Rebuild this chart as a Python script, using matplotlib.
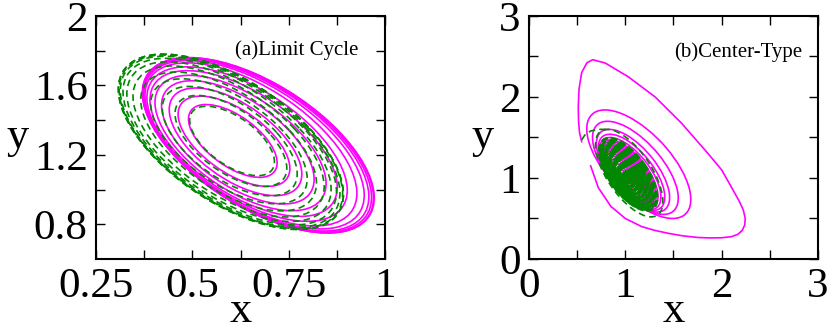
import numpy as np
import matplotlib
matplotlib.use('Agg')
import matplotlib.pyplot as plt
from matplotlib.patches import Ellipse

plt.rcParams['font.family'] = ['Liberation Serif', 'DejaVu Serif']

PINK = '#ff00ff'
GREEN = '#008800'

# (a) Limit cycle: one loop per entry, centre + half extents in x and y
pink_a_cx = [0.605, 0.608, 0.612, 0.618, 0.625, 0.633, 0.642, 0.652, 0.660, 0.665, 0.668, 0.670, 0.672]
pink_a_cy = [1.280, 1.278, 1.275, 1.272, 1.268, 1.265, 1.262, 1.260, 1.258, 1.256, 1.255, 1.255, 1.255]
pink_a_hx = [0.115, 0.145, 0.172, 0.198, 0.222, 0.243, 0.260, 0.275, 0.286, 0.293, 0.297, 0.300, 0.300]
pink_a_hy = [0.210, 0.260, 0.310, 0.355, 0.390, 0.420, 0.445, 0.470, 0.485, 0.495, 0.500, 0.505, 0.505]

green_a_cx = [0.603, 0.600, 0.597, 0.595, 0.594, 0.594, 0.595, 0.597, 0.598, 0.600, 0.600, 0.600]
green_a_cy = [1.280, 1.280, 1.279, 1.278, 1.277, 1.277, 1.276, 1.276, 1.275, 1.275, 1.275, 1.275]
green_a_hx = [0.110, 0.145, 0.175, 0.203, 0.228, 0.248, 0.265, 0.277, 0.285, 0.290, 0.292, 0.292]
green_a_hy = [0.200, 0.262, 0.315, 0.360, 0.400, 0.435, 0.460, 0.480, 0.493, 0.500, 0.505, 0.505]
tilt_a = -0.6

# (b) Center-type: first transient loop as read points, then shrinking loops
pink_b_x = [0.547, 0.525, 0.515, 0.512, 0.520, 0.547, 0.600, 0.660, 0.790, 1.030, 1.310, 1.585,
            1.860, 2.000, 2.100, 2.180, 2.225, 2.245, 2.240, 2.215, 2.170, 2.100, 2.000, 1.880,
            1.760, 1.600, 1.446, 1.300, 1.170, 1.000, 0.850, 0.720, 0.640]
pink_b_y = [1.448, 1.560, 1.700, 1.880, 2.100, 2.300, 2.420, 2.460, 2.420, 2.250, 2.000, 1.675,
            1.300, 1.100, 0.890, 0.720, 0.605, 0.500, 0.420, 0.355, 0.305, 0.275, 0.262, 0.260,
            0.265, 0.285, 0.317, 0.355, 0.400, 0.500, 0.650, 0.880, 1.150]
pink_b_cx = [1.140, 1.105, 1.080, 1.065, 1.050, 1.040, 1.035, 1.030, 1.026, 1.022, 1.018, 1.015,
             1.012, 1.010, 1.008, 1.006, 1.004, 1.003, 1.002, 1.001, 1.000]
pink_b_cy = [1.170, 1.125, 1.090, 1.070, 1.055, 1.045, 1.040, 1.035, 1.030, 1.026, 1.022, 1.018,
             1.015, 1.012, 1.010, 1.007, 1.005, 1.004, 1.003, 1.001, 1.000]
pink_b_hx = [0.540, 0.445, 0.380, 0.345, 0.320, 0.300, 0.285, 0.272, 0.260, 0.248, 0.236, 0.224,
             0.210, 0.195, 0.180, 0.160, 0.140, 0.115, 0.090, 0.065, 0.040]
pink_b_hy = [0.670, 0.575, 0.510, 0.470, 0.445, 0.425, 0.410, 0.393, 0.377, 0.360, 0.343, 0.325,
             0.305, 0.283, 0.260, 0.232, 0.203, 0.167, 0.130, 0.094, 0.058]

green_b_x = [0.547, 0.580, 0.640, 0.720, 0.810]
green_b_y = [1.470, 1.530, 1.580, 1.600, 1.600]
green_b_cx = [1.040, 1.030, 1.025, 1.020, 1.016, 1.013, 1.010, 1.008, 1.006, 1.005, 1.004, 1.003,
              1.002, 1.002, 1.001, 1.001, 1.000, 1.000, 1.000, 1.000, 1.000, 1.000, 1.000, 1.000,
              1.000, 1.000]
green_b_cy = [1.060, 1.045, 1.035, 1.028, 1.022, 1.018, 1.014, 1.011, 1.009, 1.007, 1.005, 1.004,
              1.003, 1.002, 1.002, 1.001, 1.001, 1.000, 1.000, 1.000, 1.000, 1.000, 1.000, 1.000,
              1.000, 1.000]
green_b_hx = [0.350, 0.300, 0.285, 0.272, 0.260, 0.248, 0.236, 0.224, 0.212, 0.200, 0.188, 0.176,
              0.164, 0.152, 0.140, 0.128, 0.116, 0.104, 0.092, 0.080, 0.068, 0.056, 0.044, 0.032,
              0.020, 0.010]
green_b_hy = [0.540, 0.445, 0.423, 0.403, 0.385, 0.367, 0.350, 0.332, 0.314, 0.296, 0.278, 0.261,
              0.243, 0.225, 0.207, 0.190, 0.172, 0.154, 0.136, 0.118, 0.101, 0.083, 0.065, 0.047,
              0.030, 0.015]
tilt_b = -0.65


def loop_patch(cx, cy, hx, hy, tilt, **kw):
    # ellipse with given x/y half extents and x-y correlation, as a patch
    m = np.array([[hx * hx, hx * hy * tilt], [hx * hy * tilt, hy * hy]])
    w, v = np.linalg.eigh(m)
    ang = np.degrees(np.arctan2(v[1, 1], v[0, 1]))
    return Ellipse((cx, cy), 2 * np.sqrt(w[1]), 2 * np.sqrt(w[0]), angle=ang, fill=False, **kw)


pink_kw = dict(edgecolor=PINK, lw=1.2)
green_kw = dict(edgecolor=GREEN, lw=1.2, linestyle=(0, (4, 2.5)))

fig = plt.figure(figsize=(8.3, 3.3), dpi=100)
ax1 = fig.add_axes([0.1157, 0.2152, 0.3482, 0.7364])
ax2 = fig.add_axes([0.6373, 0.2152, 0.3482, 0.7364])

# panel (a)
for i in range(len(pink_a_cx)):
    ax1.add_patch(loop_patch(pink_a_cx[i], pink_a_cy[i], pink_a_hx[i], pink_a_hy[i], tilt_a, **pink_kw))
for i in range(len(green_a_cx)):
    ax1.add_patch(loop_patch(green_a_cx[i], green_a_cy[i], green_a_hx[i], green_a_hy[i], tilt_a, **green_kw))

# panel (b)
ax2.plot(pink_b_x, pink_b_y, color=PINK, lw=1.2)
for i in range(len(pink_b_cx)):
    ax2.add_patch(loop_patch(pink_b_cx[i], pink_b_cy[i], pink_b_hx[i], pink_b_hy[i], tilt_b, **pink_kw))
ax2.plot(green_b_x, green_b_y, color=GREEN, lw=1.2, linestyle=(0, (4, 2.5)))
for i in range(len(green_b_cx)):
    # outer green loop dashed like panel (a), inner ones dense
    kw = green_kw if i == 0 else dict(edgecolor=GREEN, lw=2.0, linestyle=(0, (2.5, 1)))
    ax2.add_patch(loop_patch(green_b_cx[i], green_b_cy[i], green_b_hx[i], green_b_hy[i], tilt_b, **kw))

ax1.set_xlim(0.25, 1)
ax1.set_ylim(0.6, 2.0)
ax1.set_xticks([0.25, 0.5, 0.75, 1.0])
ax1.set_xticklabels(['0.25', '0.5', '0.75', '1'])
ax1.set_xticks([0.375, 0.625, 0.875], minor=True)
ax1.set_yticks([0.8, 1.2, 1.6, 2.0])
ax1.set_yticklabels(['0.8', '1.2', '1.6', '2'])
ax1.set_yticks([1.0, 1.4, 1.8], minor=True)

ax2.set_xlim(0, 3)
ax2.set_ylim(0, 3)
ax2.set_xticks([0, 1, 2, 3])
ax2.set_xticklabels(['0', '1', '2', '3'])
ax2.set_xticks([0.5, 1.5, 2.5], minor=True)
ax2.set_yticks([0, 1, 2, 3])
ax2.set_yticklabels(['0', '1', '2', '3'])
ax2.set_yticks([0.5, 1.5, 2.5], minor=True)

for ax in (ax1, ax2):
    for s in ax.spines.values():
        s.set_linewidth(1.5)
    ax.tick_params(which='both', direction='in', top=True, right=True,
                   length=6.5, width=1.0, labelsize=31, pad=6)
    ax.set_xlabel('x', fontsize=32, labelpad=-11)
    ax.set_ylabel('y', fontsize=32, rotation=0, labelpad=12, va='center')

ax1.text(0.907, 0.86, '(a)Limit Cycle', transform=ax1.transAxes, ha='right', va='center', fontsize=15)
ax2.text(0.945, 0.852, '(b)Center-Type', transform=ax2.transAxes, ha='right', va='center', fontsize=15)

fig.savefig('out.png', dpi=100)
